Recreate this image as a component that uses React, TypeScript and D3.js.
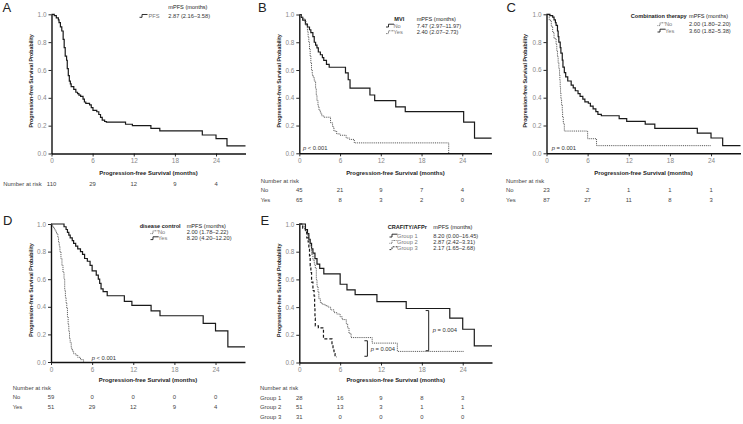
import React, { useEffect, useRef } from "react";
import * as d3 from "d3";

const FONT = "'Liberation Sans', Arial, Helvetica, sans-serif";
const X_TICKS = [0, 6, 12, 18, 24];
const Y_TICKS = [0, 0.2, 0.4, 0.6, 0.8, 1.0];
const X_MAX = 28.3;
const X_TITLE = "Progression-free Survival (months)";
const Y_TITLE = "Progression-free Survival Probability";

// ---------- Panel A: all patients ----------
const pfsT = [0, 0.4, 0.7, 1.0, 1.1, 1.3, 1.5, 1.7, 1.85, 2.0, 2.2, 2.3, 2.45, 2.6, 2.75, 2.87, 3.25, 3.55, 3.8, 4.0, 4.25, 4.6, 4.8, 5.0, 5.55, 5.8, 6.05, 6.6, 6.9, 7.15, 7.4, 7.75, 8.0, 10.8, 11.8, 14.5, 15.8, 22.0, 24.0, 25.6, 28.3];
const pfsS = [1, 0.99, 0.975, 0.96, 0.94, 0.91, 0.88, 0.82, 0.76, 0.70, 0.67, 0.61, 0.56, 0.52, 0.50, 0.48, 0.46, 0.44, 0.43, 0.42, 0.41, 0.39, 0.37, 0.36, 0.35, 0.33, 0.31, 0.30, 0.28, 0.26, 0.24, 0.23, 0.225, 0.21, 0.20, 0.18, 0.163, 0.133, 0.107, 0.055, 0.055];
const pfsRisk = [110, 29, 12, 9, 4];

// ---------- Panel B: MVI ----------
const mviNoT = [0, 0.3, 0.5, 0.9, 1.2, 1.5, 1.7, 2.0, 2.2, 2.4, 2.6, 2.8, 3.1, 3.4, 3.6, 4.0, 4.4, 6.8, 7.2, 7.47, 10.4, 11.1, 14.2, 15.6, 24.2, 25.8, 28.3];
const mviNoS = [1, 0.98, 0.96, 0.93, 0.91, 0.89, 0.87, 0.84, 0.80, 0.78, 0.76, 0.73, 0.71, 0.69, 0.67, 0.64, 0.62, 0.58, 0.53, 0.47, 0.42, 0.38, 0.335, 0.30, 0.225, 0.11, 0.11];
const mviYesT = [0, 0.3, 0.5, 0.8, 1.0, 1.2, 1.3, 1.4, 1.5, 1.6, 1.7, 1.8, 1.9, 2.0, 2.2, 2.4, 2.5, 2.6, 2.75, 2.9, 3.1, 3.3, 3.6, 4.6, 4.9, 5.1, 5.5, 6.0, 6.9, 7.4, 8.1, 22.0];
const mviYesS = [1, 0.985, 0.97, 0.95, 0.92, 0.88, 0.84, 0.80, 0.75, 0.70, 0.65, 0.60, 0.57, 0.55, 0.52, 0.47, 0.42, 0.38, 0.34, 0.31, 0.29, 0.27, 0.26, 0.22, 0.19, 0.16, 0.14, 0.13, 0.11, 0.10, 0.075, 0];
const mviNoRisk = [45, 21, 9, 7, 4];
const mviYesRisk = [65, 8, 3, 2, 0];

// ---------- Panel C: combination therapy ----------
const combNoT = [0, 0.4, 0.7, 0.9, 1.1, 1.4, 1.5, 1.6, 1.7, 1.8, 1.9, 1.95, 2.0, 2.05, 2.1, 2.2, 2.3, 2.35, 2.45, 2.6, 6.0, 7.3, 24.0];
const combNoS = [1, 0.957, 0.913, 0.87, 0.826, 0.783, 0.739, 0.696, 0.652, 0.609, 0.565, 0.522, 0.478, 0.435, 0.391, 0.348, 0.304, 0.261, 0.217, 0.16, 0.105, 0.055, 0.055];
const combYesT = [0, 0.5, 0.9, 1.1, 1.3, 1.4, 1.6, 1.7, 1.8, 2.0, 2.1, 2.3, 2.4, 2.6, 2.8, 3.1, 3.6, 3.9, 4.2, 4.6, 4.9, 5.3, 5.6, 6.1, 6.4, 6.8, 7.2, 7.5, 8.0, 10.6, 11.7, 14.4, 15.8, 22.0, 24.0, 25.7, 28.3];
const combYesS = [1, 0.99, 0.98, 0.96, 0.94, 0.92, 0.88, 0.84, 0.80, 0.76, 0.72, 0.67, 0.62, 0.58, 0.55, 0.52, 0.49, 0.47, 0.45, 0.43, 0.41, 0.39, 0.37, 0.36, 0.34, 0.32, 0.30, 0.28, 0.27, 0.25, 0.23, 0.21, 0.18, 0.145, 0.11, 0.055, 0.055];
const combNoRisk = [23, 2, 1, 1, 1];
const combYesRisk = [87, 27, 11, 8, 3];

// ---------- Panel D: disease control ----------
const dcNoT = [0, 0.2, 0.4, 0.6, 0.8, 1.0, 1.1, 1.2, 1.3, 1.45, 1.6, 1.75, 1.9, 2.0, 2.1, 2.2, 2.3, 2.4, 2.5, 2.6, 2.7, 2.8, 2.95, 3.1, 3.3, 3.6, 3.9, 4.3, 4.75];
const dcNoS = [1, 0.983, 0.966, 0.949, 0.93, 0.90, 0.87, 0.84, 0.80, 0.75, 0.70, 0.65, 0.60, 0.52, 0.47, 0.43, 0.39, 0.33, 0.27, 0.22, 0.17, 0.14, 0.10, 0.08, 0.06, 0.05, 0.034, 0.017, 0];
const dcYesT = [0, 1.9, 2.2, 2.4, 2.6, 2.8, 3.1, 3.3, 3.6, 3.9, 4.3, 4.6, 4.9, 5.3, 5.7, 6.0, 6.6, 6.9, 7.1, 7.3, 7.6, 8.2, 10.7, 11.8, 14.6, 15.9, 22.2, 24.0, 25.8, 28.3];
const dcYesS = [1, 0.98, 0.96, 0.94, 0.92, 0.90, 0.88, 0.86, 0.84, 0.82, 0.80, 0.78, 0.75, 0.73, 0.70, 0.66, 0.63, 0.60, 0.57, 0.53, 0.51, 0.48, 0.44, 0.41, 0.37, 0.335, 0.28, 0.225, 0.11, 0.11];
const dcNoRisk = [59, 0, 0, 0, 0];
const dcYesRisk = [51, 29, 12, 9, 4];

// ---------- Panel E: CRAFITY/AFPr ----------
const g1T = [0, 0.9, 1.2, 1.4, 1.6, 1.8, 2.0, 2.3, 2.6, 3.0, 3.6, 6.0, 7.0, 8.2, 11.4, 15.7, 22.1, 24.0, 25.7, 28.3];
const g1S = [1, 0.96, 0.93, 0.89, 0.86, 0.82, 0.79, 0.75, 0.71, 0.68, 0.64, 0.565, 0.525, 0.49, 0.44, 0.39, 0.32, 0.24, 0.12, 0.12];
const g2T = [0, 0.5, 0.8, 1.0, 1.2, 1.4, 1.6, 1.8, 2.0, 2.2, 2.35, 2.5, 2.6, 2.75, 2.87, 3.1, 3.4, 3.8, 4.2, 4.6, 5.1, 5.5, 6.0, 6.3, 6.9, 7.1, 7.3, 7.6, 10.7, 14.4, 24.2];
const g2S = [1, 0.98, 0.96, 0.94, 0.92, 0.88, 0.84, 0.78, 0.74, 0.71, 0.68, 0.60, 0.55, 0.51, 0.46, 0.43, 0.42, 0.41, 0.40, 0.38, 0.36, 0.35, 0.33, 0.31, 0.28, 0.25, 0.21, 0.18, 0.14, 0.08, 0.08];
const g3T = [0, 0.5, 0.9, 1.1, 1.3, 1.4, 1.5, 1.6, 1.7, 1.8, 2.0, 2.17, 2.25, 2.3, 2.35, 2.8, 3.55, 4.8, 4.95, 5.1, 5.25, 5.5];
const g3S = [1, 0.97, 0.94, 0.90, 0.87, 0.83, 0.77, 0.70, 0.65, 0.58, 0.52, 0.48, 0.40, 0.32, 0.265, 0.25, 0.17, 0.13, 0.09, 0.065, 0.04, 0.04];
const g1Risk = [28, 16, 9, 8, 3];
const g2Risk = [51, 13, 3, 1, 1];
const g3Risk = [31, 0, 0, 0, 0];

type Style = "solid" | "dotted" | "dashed";
interface Curve { t: number[]; s: number[]; style: Style; name: string; mpfs: string; risk: number[] }

const STYLES: Record<Style, { stroke: string; width: number; dash?: string }> = {
  solid: { stroke: "#1a1a1a", width: 1.2 },
  dotted: { stroke: "#555", width: 1.0, dash: "1 0.9" },
  dashed: { stroke: "#1a1a1a", width: 1.2, dash: "3 2" },
};

interface PanelCfg {
  letter: string; lx: number; ly: number;
  x0: number; x1: number; yTop: number; yBot: number; yTitleX: number; xTitleY: number;
  curves: Curve[];
  group?: string; groupX?: number; groupAnchor?: "start" | "end";
  mpfsX: number; titleY: number; rowYs: number[]; symX: number; labelX: number;
  p?: { text: string; x: number; y: number }[];
  brackets?: { t: number; s0: number; s1: number; tx: number; ty: number }[];
  riskInline?: boolean; riskX: number; riskTitleY: number; riskYs: number[];
}

const panels: PanelCfg[] = [
  {
    letter: "A", lx: 2.5, ly: 7,
    x0: 51.5, x1: 245.5, yTop: 14.3, yBot: 153.5, yTitleX: 31, xTitleY: 173.3,
    curves: [{ t: pfsT, s: pfsS, style: "solid", name: "PFS", mpfs: "2.87 (2.16–3.58)", risk: pfsRisk }],
    mpfsX: 168.3, titleY: 7, rowYs: [16], symX: 139.5, labelX: 148.5,
    riskInline: true, riskX: 3.3, riskTitleY: 183.5, riskYs: [183.5],
  },
  {
    letter: "B", lx: 258, ly: 7,
    x0: 299.3, x1: 491.5, yTop: 14.5, yBot: 153.3, yTitleX: 279, xTitleY: 173.3,
    curves: [
      { t: mviNoT, s: mviNoS, style: "solid", name: "No", mpfs: "7.47 (2.97–11.97)", risk: mviNoRisk },
      { t: mviYesT, s: mviYesS, style: "dotted", name: "Yes", mpfs: "2.40 (2.07–2.73)", risk: mviYesRisk },
    ],
    group: "MVI", groupX: 394.3, groupAnchor: "start",
    mpfsX: 416.7, titleY: 19, rowYs: [25.7, 32.3], symX: 386, labelX: 393.5,
    p: [{ text: "< 0.001", x: 303, y: 147.7 }],
    riskX: 260.7, riskTitleY: 181, riskYs: [190, 199.5],
  },
  {
    letter: "C", lx: 506.5, ly: 7,
    x0: 546.5, x1: 740.5, yTop: 14.3, yBot: 153.3, yTitleX: 525, xTitleY: 173.3,
    curves: [
      { t: combNoT, s: combNoS, style: "dotted", name: "No", mpfs: "2.00 (1.80–2.20)", risk: combNoRisk },
      { t: combYesT, s: combYesS, style: "solid", name: "Yes", mpfs: "3.60 (1.82–5.38)", risk: combYesRisk },
    ],
    group: "Combination therapy", groupX: 686.7, groupAnchor: "end",
    mpfsX: 689, titleY: 16, rowYs: [24.3, 30.7], symX: 657.5, labelX: 665,
    p: [{ text: "= 0.001", x: 551.7, y: 147.7 }],
    riskX: 506, riskTitleY: 181, riskYs: [190, 199.5],
  },
  {
    letter: "D", lx: 3, ly: 220,
    x0: 51, x1: 245, yTop: 224, yBot: 362, yTitleX: 31, xTitleY: 380.3,
    curves: [
      { t: dcNoT, s: dcNoS, style: "dotted", name: "No", mpfs: "2.00 (1.78–2.22)", risk: dcNoRisk },
      { t: dcYesT, s: dcYesS, style: "solid", name: "Yes", mpfs: "8.20 (4.20–12.20)", risk: dcYesRisk },
    ],
    group: "disease control", groupX: 180.7, groupAnchor: "end",
    mpfsX: 186.7, titleY: 225.7, rowYs: [232.3, 238.3], symX: 150.5, labelX: 158,
    p: [{ text: "< 0.001", x: 91.7, y: 358.3 }],
    riskX: 12.7, riskTitleY: 388.3, riskYs: [397.3, 407.3],
  },
  {
    letter: "E", lx: 260.5, ly: 220,
    x0: 299.3, x1: 492, yTop: 224, yBot: 362.5, yTitleX: 279, xTitleY: 380.3,
    curves: [
      { t: g1T, s: g1S, style: "solid", name: "Group 1", mpfs: "8.20 (0.00–16.45)", risk: g1Risk },
      { t: g2T, s: g2S, style: "dotted", name: "Group 2", mpfs: "2.87 (2.42–3.31)", risk: g2Risk },
      { t: g3T, s: g3S, style: "dashed", name: "Group 3", mpfs: "2.17 (1.65–2.68)", risk: g3Risk },
    ],
    group: "CRAFITY/AFPr", groupX: 387.7, groupAnchor: "start",
    mpfsX: 433.3, titleY: 227.3, rowYs: [235.7, 242, 248.3], symX: 389.5, labelX: 397,
    brackets: [
      { t: 19.0, s0: 0.375, s1: 0.085, tx: 432.7, ty: 330 },
      { t: 10.0, s0: 0.157, s1: 0.045, tx: 370.7, ty: 349 },
    ],
    riskX: 260, riskTitleY: 388.3, riskYs: [397.7, 407.3, 417],
  },
];

const FS_TICK = 6.4;
const FS_XTITLE = 5.9;
const FS_YTITLE = 5.3;
const FS_LEG_TITLE = 5.6;
const FS_LEG = 5.7;
const FS_RISK = 5.9;
const FS_P = 5.8;

function Axis({ scale, orient, x, y }: { scale: d3.ScaleLinear<number, number>; orient: "bottom" | "left"; x: number; y: number }) {
  const ref = useRef<SVGGElement>(null);
  useEffect(() => {
    const axis = orient === "bottom"
      ? d3.axisBottom(scale).tickValues(X_TICKS).tickFormat(d3.format("d") as any)
      : d3.axisLeft(scale).tickValues(Y_TICKS).tickFormat(d3.format(".1f") as any);
    axis.tickSize(3).tickSizeOuter(0).tickPadding(2);
    const g = d3.select(ref.current!);
    g.call(axis as any);
    g.attr("font-family", FONT).attr("font-size", FS_TICK);
    g.select(".domain").attr("stroke", "#111").attr("stroke-width", 1.4);
    g.selectAll(".tick line").attr("stroke", "#111").attr("stroke-width", 0.9);
    g.selectAll(".tick text").attr("fill", "#888");
  });
  return <g ref={ref} transform={`translate(${x},${y})`} />;
}

function Panel({ p }: { p: PanelCfg }) {
  const x = d3.scaleLinear().domain([0, X_MAX]).range([p.x0, p.x1]);
  const y = d3.scaleLinear().domain([0, 1]).range([p.yBot, p.yTop]);
  const line = d3.line<[number, number]>().x((d) => x(d[0])).y((d) => y(d[1])).curve(d3.curveStepAfter);
  const txt = { fontFamily: FONT } as const;
  return (
    <g>
      <text x={p.lx} y={p.ly} dominantBaseline="central" fontSize={13} fill="#222" style={txt}>{p.letter}</text>
      {p.curves.map((c, i) => {
        const st = STYLES[c.style];
        const pts = c.t.map((t, k) => [t, c.s[k]] as [number, number]);
        return <path key={i} d={line(pts) || ""} fill="none" stroke={st.stroke} strokeWidth={st.width} strokeDasharray={st.dash} />;
      })}
      <Axis scale={x} orient="bottom" x={0} y={p.yBot} />
      <Axis scale={y} orient="left" x={p.x0} y={0} />
      <text x={(p.x0 + p.x1) / 2} y={p.xTitleY} textAnchor="middle" dominantBaseline="central" fontSize={FS_XTITLE} fontWeight="bold" fill="#222" style={txt}>{X_TITLE}</text>
      <text transform={`translate(${p.yTitleX},${(p.yTop + p.yBot) / 2 - 3}) rotate(-90)`} textAnchor="middle" dominantBaseline="central" fontSize={FS_YTITLE} fontWeight="bold" fill="#222" style={txt}>{Y_TITLE}</text>
      {p.group && (
        <text x={p.groupX} y={p.titleY} textAnchor={p.groupAnchor} dominantBaseline="central" fontSize={FS_LEG_TITLE} fontWeight="bold" fill="#222" style={txt}>{p.group}</text>
      )}
      <text x={p.mpfsX} y={p.titleY} dominantBaseline="central" fontSize={FS_LEG_TITLE} fill="#222" style={txt}>mPFS (months)</text>
      {p.curves.map((c, i) => {
        const st = STYLES[c.style];
        const ry = p.rowYs[i];
        return (
          <g key={"lg" + i}>
            <path d={`M${p.symX},${ry + 1.3} h2.5 v-2.8 h5.5`} fill="none" stroke={st.stroke} strokeWidth={0.9} strokeDasharray={c.style === "solid" ? undefined : c.style === "dotted" ? "0.8 0.7" : "1.8 1.2"} />
            <text x={p.labelX} y={ry} dominantBaseline="central" fontSize={FS_LEG} fill="#777" style={txt}>{c.name}</text>
            <text x={p.mpfsX} y={ry} dominantBaseline="central" fontSize={FS_LEG} fill="#333" style={txt}>{c.mpfs}</text>
          </g>
        );
      })}
      {p.p && p.p.map((q, i) => (
        <text key={"p" + i} x={q.x} y={q.y} dominantBaseline="central" fontSize={FS_P} fill="#333" style={txt}>
          <tspan fontStyle="italic">p</tspan> {q.text}
        </text>
      ))}
      {p.brackets && p.brackets.map((b, i) => (
        <g key={"b" + i}>
          <path d={`M${x(b.t) - 3},${y(b.s0)} H${x(b.t)} V${y(b.s1)} H${x(b.t) - 3}`} fill="none" stroke="#222" strokeWidth={1} />
          <text x={b.tx} y={b.ty} dominantBaseline="central" fontSize={FS_P} fill="#333" style={txt}>
            <tspan fontStyle="italic">p</tspan> = 0.004
          </text>
        </g>
      ))}
      {p.riskInline ? (
        <g>
          <text x={p.riskX} y={p.riskTitleY} dominantBaseline="central" fontSize={FS_RISK} fill="#444" style={txt}>Number at risk</text>
          {p.curves[0].risk.map((v, k) => (
            <text key={k} x={x(X_TICKS[k])} y={p.riskYs[0]} textAnchor="middle" dominantBaseline="central" fontSize={FS_RISK} fill="#444" style={txt}>{v}</text>
          ))}
        </g>
      ) : (
        <g>
          <text x={p.riskX} y={p.riskTitleY} dominantBaseline="central" fontSize={FS_RISK} fill="#444" style={txt}>Number at risk</text>
          {p.curves.map((c, i) => (
            <g key={"r" + i}>
              <text x={p.riskX} y={p.riskYs[i]} dominantBaseline="central" fontSize={FS_RISK} fill="#444" style={txt}>{c.name}</text>
              {c.risk.map((v, k) => (
                <text key={k} x={x(X_TICKS[k])} y={p.riskYs[i]} textAnchor="middle" dominantBaseline="central" fontSize={FS_RISK} fill="#444" style={txt}>{v}</text>
              ))}
            </g>
          ))}
        </g>
      )}
    </g>
  );
}

export default function App() {
  return (
    <svg width={743} height={424} style={{ position: "absolute", left: 0, top: 0, background: "#fff" }}>
      <rect width={743} height={424} fill="#fff" />
      {panels.map((p) => <Panel key={p.letter} p={p} />)}
    </svg>
  );
}
